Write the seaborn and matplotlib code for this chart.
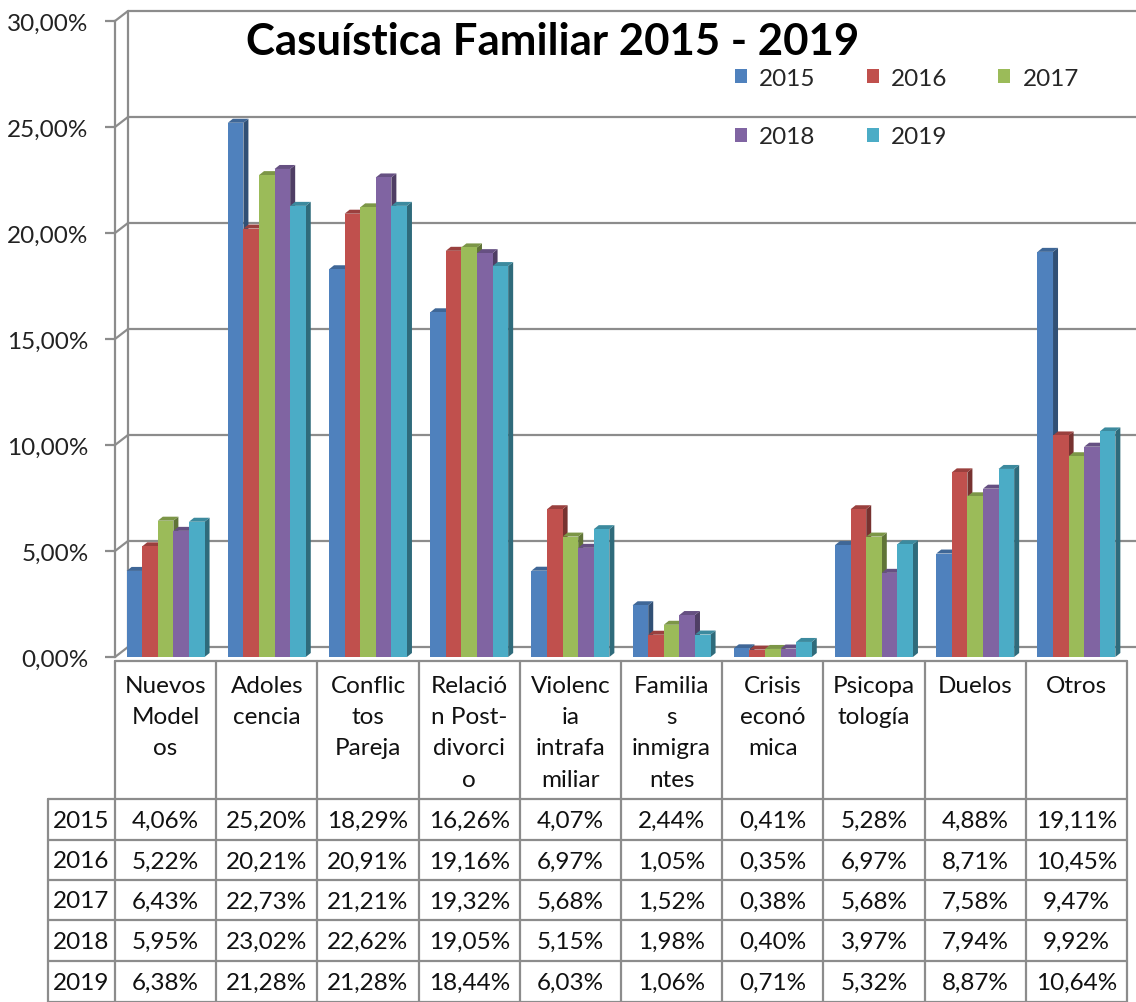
import numpy as np
import pandas as pd
import matplotlib
matplotlib.use('Agg')
import matplotlib.pyplot as plt
from matplotlib.patches import Polygon, Patch
from matplotlib.colors import to_rgb
import seaborn as sns

categorias = ['Nuevos\nModel\nos', 'Adoles\ncencia', 'Conflic\ntos\nPareja',
              'Relació\nn Post-\ndivorci\no', 'Violenc\nia\nintrafa\nmiliar',
              'Familia\ns\ninmigra\nntes', 'Crisis\neconó\nmica', 'Psicopa\ntología',
              'Duelos', 'Otros']
anios = ['2015', '2016', '2017', '2018', '2019']
v2015 = [4.06, 25.20, 18.29, 16.26, 4.07, 2.44, 0.41, 5.28, 4.88, 19.11]
v2016 = [5.22, 20.21, 20.91, 19.16, 6.97, 1.05, 0.35, 6.97, 8.71, 10.45]
v2017 = [6.43, 22.73, 21.21, 19.32, 5.68, 1.52, 0.38, 5.68, 7.58, 9.47]
v2018 = [5.95, 23.02, 22.62, 19.05, 5.15, 1.98, 0.40, 3.97, 7.94, 9.92]
v2019 = [6.38, 21.28, 21.28, 18.44, 6.03, 1.06, 0.71, 5.32, 8.87, 10.64]
valores = [v2015, v2016, v2017, v2018, v2019]
colores = ['#4F81BD', '#C0504D', '#9BBB59', '#8064A2', '#4BACC6']
yticks = [0, 5, 10, 15, 20, 25, 30]

df = pd.DataFrame([
    {'Categoría': c, 'Año': a, 'Valor': v}
    for a, serie in zip(anios, valores)
    for c, v in zip(categorias, serie)
])

def pct(v):
    return f'{v:.2f}%'.replace('.', ',')

sns.set_theme(style='white')
plt.rcParams['font.family'] = ['Lato', 'DejaVu Sans']

W, H = 1136, 1003
fig = plt.figure(figsize=(W / 100, H / 100), dpi=100)

# zona del gráfico en píxeles
X0, X1 = 115, 1127
Y0, Y1 = 658, 22
ppx = (X1 - X0) / len(categorias)
ppy = (Y0 - Y1) / 30
gris = '#8c8c8c'
FS = 17.5

def caja(x0, y0, x1, y1):
    return [x0 / W, 1 - y1 / H, (x1 - x0) / W, (y1 - y0) / H]

# fondo con pared 3D, tabla y rejilla (coordenadas en píxeles)
bg = fig.add_axes([0, 0, 1, 1], zorder=0)
bg.set_xlim(0, W)
bg.set_ylim(H, 0)
bg.axis('off')

dxw, dyw = 13, 10
for t in yticks:
    y = Y0 - t * ppy
    bg.plot([X0 + dxw, W], [y - dyw, y - dyw], color=gris, lw=1.6)
    bg.plot([X0, X0 + dxw], [y, y - dyw], color=gris, lw=1.6)
bg.plot([X0 + dxw, X0 + dxw], [Y1 - dyw, Y0 - dyw], color=gris, lw=1.6)

ax = fig.add_axes(caja(X0, Y1, X1, Y0), zorder=1)
ax.patch.set_alpha(0)
sns.barplot(data=df, x='Categoría', y='Valor', hue='Año', palette=colores,
            width=0.77, saturation=1, legend=False, ax=ax, zorder=3,
            edgecolor='none', linewidth=0)
ax.set_xlim(-0.5, len(categorias) - 0.5)
ax.set_ylim(0, 30)
ax.set_yticks(yticks)
ax.set_yticklabels([pct(t) for t in yticks], fontsize=FS, color='#222222')
ax.set_xticks([])
ax.set_xlabel('')
ax.set_ylabel('')
for s in ['top', 'right', 'bottom']:
    ax.spines[s].set_visible(False)
ax.spines['left'].set_color(gris)
ax.spines['left'].set_linewidth(1.6)
ax.tick_params(axis='y', left=True, length=7, width=1.6, color=gris, pad=12)

# caras laterales y superiores (efecto 3D)
dx, dy = 5 / ppx, 4 / ppy
for p in list(ax.patches):
    x, w, h = p.get_x(), p.get_width(), p.get_height()
    rgb = np.array(to_rgb(p.get_facecolor()))
    lado = Polygon([(x + w, 0), (x + w + dx, dy), (x + w + dx, h + dy), (x + w, h)],
                   closed=True, facecolor=rgb * 0.62, edgecolor='none', zorder=2.5)
    tapa = Polygon([(x, h), (x + dx, h + dy), (x + w + dx, h + dy), (x + w, h)],
                   closed=True, facecolor=rgb * 0.8, edgecolor='none', zorder=2.5)
    ax.add_patch(lado)
    ax.add_patch(tapa)

# tabla de datos
col_x = [X0 + i * ppx for i in range(len(categorias) + 1)]
filas_y = [662, 800, 841, 881, 921, 962, 1003]
LX = 48
bg.plot([X0, col_x[-1]], [filas_y[0], filas_y[0]], color=gris, lw=1.6)
for y in filas_y[1:]:
    bg.plot([LX, col_x[-1]], [y, y], color=gris, lw=1.6)
bg.plot([LX, LX], [filas_y[1], H], color=gris, lw=1.6)
for x in col_x:
    bg.plot([x, x], [filas_y[0], H], color=gris, lw=1.6)

for i, c in enumerate(categorias):
    cx = (col_x[i] + col_x[i + 1]) / 2
    bg.text(cx, 676, c, ha='center', va='top', fontsize=FS, linespacing=1.6,
            color='#111111')
for j, (a, serie) in enumerate(zip(anios, valores)):
    cy = (filas_y[j + 1] + filas_y[j + 2]) / 2 + 1
    bg.text((LX + X0) / 2, cy, a, ha='center', va='center', fontsize=FS, color='#111111')
    for i, v in enumerate(serie):
        cx = (col_x[i] + col_x[i + 1]) / 2
        bg.text(cx, cy, pct(v), ha='center', va='center', fontsize=FS, color='#111111')

# título y leyenda
fig.text(553 / W, 1 - 42 / H, 'Casuística Familiar 2015 - 2019', ha='center', va='center',
         fontsize=31.5, fontweight='bold', color='black')
handles = [Patch(facecolor=c, edgecolor='none') for c in colores]
orden = [0, 3, 1, 4, 2]
fig.legend([handles[k] for k in orden], [anios[k] for k in orden], loc='upper left',
           bbox_to_anchor=(725 / W, 1 - 59 / H), ncol=3, frameon=False, fontsize=FS,
           handlelength=0.5, handleheight=0.5, handletextpad=0.5, columnspacing=2.1,
           labelspacing=1.55, borderaxespad=0)

fig.savefig('out.png', dpi=100)
